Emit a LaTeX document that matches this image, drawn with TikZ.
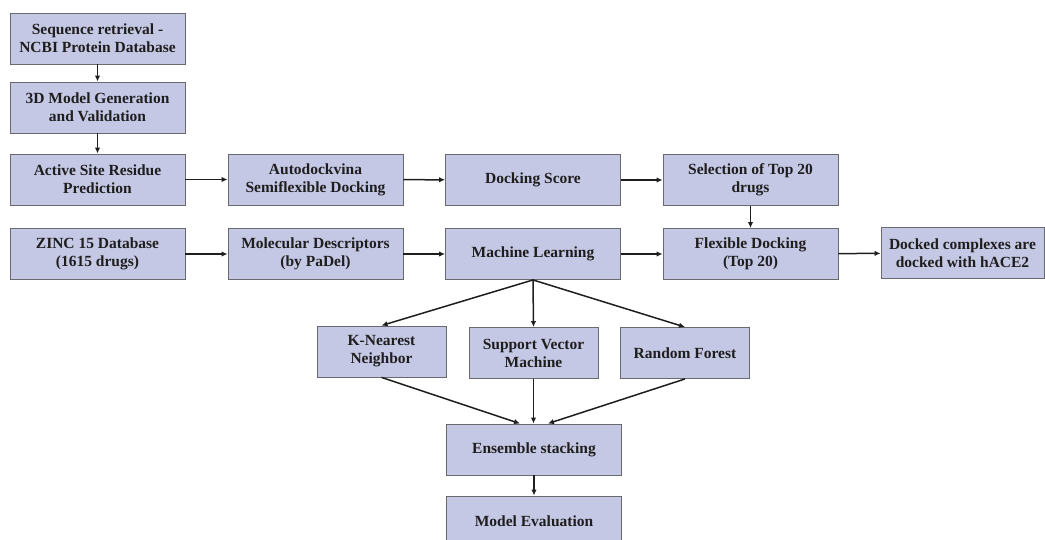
\documentclass[tikz,border=0pt]{standalone}
\usepackage{fontspec}
\setmainfont{Liberation Serif}
\usetikzlibrary{arrows.meta}
\definecolor{boxfill}{RGB}{197,200,228}
\definecolor{boxline}{RGB}{105,105,110}
\definecolor{inktext}{RGB}{30,30,30}

\begin{document}
\begin{tikzpicture}[x=1pt, y=-1pt,
  stage/.style={draw=boxline, fill=boxfill, line width=0.9pt, text=inktext,
    font=\fontsize{15.5}{18}\selectfont\bfseries, align=center,
    minimum width=175pt, minimum height=51pt, inner sep=1pt},
  model/.style={stage, minimum width=129pt},
  flow/.style={draw=inktext, line width=1.5pt, -{Latex[length=6pt,width=5.5pt]}}]
% Fix the page to the size of the reference
\useasboundingbox (0,0) rectangle (1045,540);
% Protein side: sequence to docking
\node[stage] (seq) at (97.5,38.5) {Sequence retrieval -\\NCBI Protein Database};
\node[stage] (model3d) at (97.5,107.5) {3D Model Generation\\and Validation};
\node[stage] (active) at (97.5,179.5) {Active Site Residue\\Prediction};
\node[stage] (autodock) at (315.5,179.5) {Autodockvina\\Semiflexible Docking};
\node[stage] (score) at (533,180) {Docking Score};
\node[stage] (select) at (750.5,180) {Selection of Top 20\\drugs};
% Ligand side: descriptors and learning
\node[stage] (zinc) at (97.5,254) {ZINC 15 Database\\(1615 drugs)};
\node[stage] (descr) at (315.5,254) {Molecular Descriptors\\(by PaDel)};
\node[stage] (ml) at (533,254) {Machine Learning};
\node[stage] (flex) at (750.5,254) {Flexible Docking\\(Top 20)};
\node[stage, minimum width=163pt] (docked) at (962.5,253) {Docked complexes are\\docked with hACE2};
% The three models and the ensemble
\node[model] (knn) at (381.5,351.5) {K-Nearest\\Neighbor};
\node[model] (svm) at (533.5,353) {Support Vector\\Machine};
\node[model] (rf) at (685,353) {Random Forest};
\node[stage] (ens) at (534,449.5) {Ensemble stacking};
\node[stage] (eval) at (534,521.5) {Model Evaluation};
% Connectors
\draw[flow] (seq) -- (model3d);
\draw[flow] (model3d) -- (active);
\draw[flow] (active) -- (autodock);
\draw[flow] (autodock) -- (score);
\draw[flow] (score) -- (select);
\draw[flow] (select) -- (flex);
\draw[flow] (zinc) -- (descr);
\draw[flow] (descr) -- (ml);
\draw[flow] (ml) -- (flex);
\draw[flow] (flex) -- (docked);
\draw[flow] (ml.south) -- (knn.north);
\draw[flow] (ml.south) -- (svm.north);
\draw[flow] (ml.south) -- (rf.north);
\draw[flow] (knn.south) -- ([xshift=-14pt]ens.north);
\draw[flow] (svm.south) -- (svm.south |- ens.north);
\draw[flow] (rf.south) -- ([xshift=14pt]ens.north);
\draw[flow] (ens) -- (eval);
\end{tikzpicture}
\end{document}
